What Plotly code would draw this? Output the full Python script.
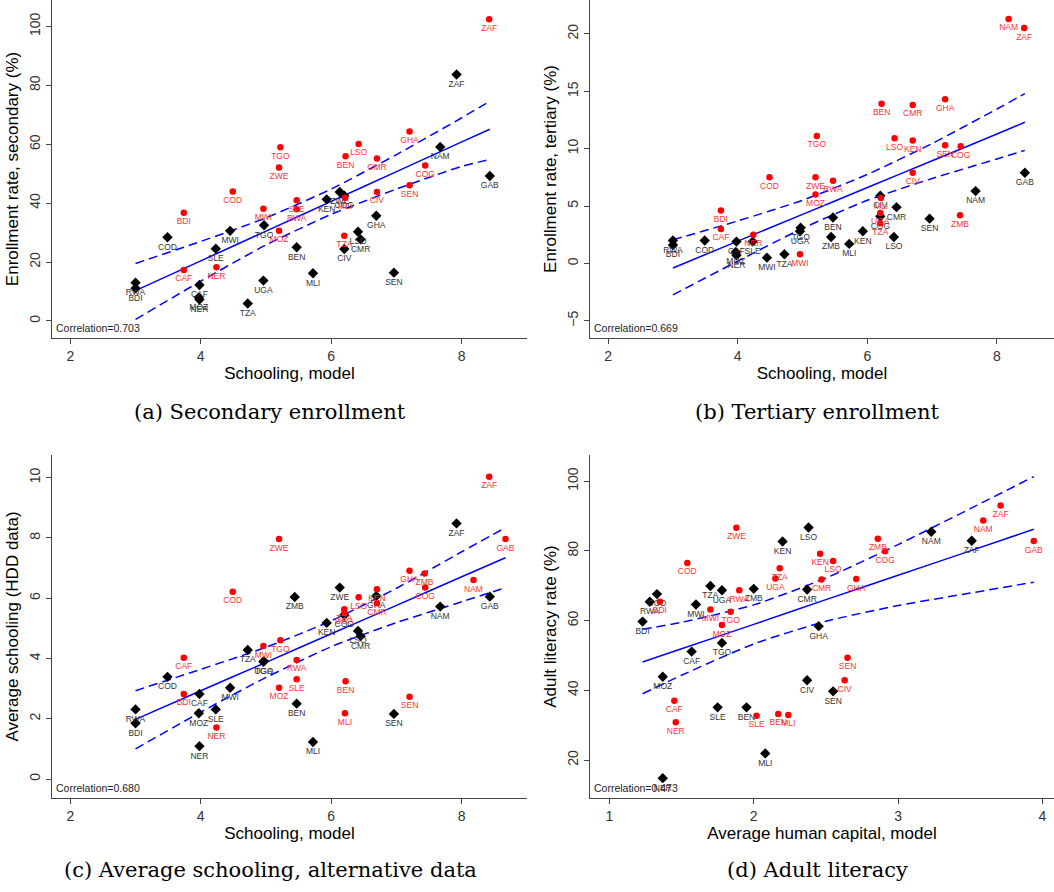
import plotly.graph_objects as go

W, H = 1054, 892

# ---- Panels (a)-(c): countries with model schooling (two samples) ----
BLACK_CODES = ["RWA", "BDI", "COD", "CAF", "MOZ", "NER", "SLE", "MWI", "TZA", "UGA", "TGO", "ZMB", "BEN",
               "MLI", "KEN", "ZWE", "COG", "CIV", "LSO", "CMR", "GHA", "SEN", "NAM", "ZAF", "GAB"]
BLACK_SCHOOL = [3.00, 3.00, 3.49, 3.98, 3.97, 3.98, 4.23, 4.45, 4.72, 4.96, 4.97, 5.44, 5.47,
                5.72, 5.93, 6.13, 6.20, 6.20, 6.41, 6.45, 6.69, 6.96, 7.67, 7.92, 8.43]
sec_black = [13.0, 11.1, 28.4, 12.2, 8.0, 7.3, 24.5, 30.6, 5.9, 13.7, 32.5, None, 25.0,
             16.2, 41.3, 43.8, 42.5, 24.4, 30.3, 27.7, 35.7, 16.4, 59.1, 83.7, 49.2]
ter_black = [2.0, 1.6, 2.0, 1.9, 1.0, 0.7, 1.9, 0.5, 0.8, 2.8, 3.1, 2.3, 4.0,
             1.7, 2.8, None, 4.1, 5.9, 2.3, 4.9, None, 3.9, 6.3, None, 7.9]
hdd_black = [2.31, 1.85, 3.39, 2.82, 2.18, 1.09, 2.31, 3.03, 4.28, 3.89, 3.91, 6.04, 2.50,
             1.23, 5.18, 6.35, 5.44, None, 4.91, 4.74, 6.07, 2.16, 5.72, 8.48, 6.05]

RED_CODES = ["CAF", "BDI", "NER", "COD", "MWI", "MOZ", "ZWE", "TGO", "RWA", "SLE", "TZA", "UGA", "MLI",
             "BEN", "LSO", "KEN", "CMR", "CIV", "GHA", "SEN", "COG", "ZMB", "NAM", "ZAF", "GAB"]
RED_SCHOOL = [3.74, 3.74, 4.24, 4.49, 4.96, 5.20, 5.20, 5.22, 5.47, 5.47, 6.20, 6.20, 6.21,
              6.22, 6.42, 6.70, 6.70, 6.70, 7.20, 7.20, 7.44, 7.43, 8.18, 8.42, 8.67]
sec_red = [17.3, 36.7, 18.2, 44.0, 38.1, 30.6, 52.1, 59.0, 37.9, 41.0, 28.9, None, 41.8,
           55.9, 60.1, None, 55.2, 43.8, 64.3, 46.1, 52.8, None, None, 102.5, None]
ter_red = [3.0, 4.6, 2.5, 7.5, 0.8, 6.0, 7.5, 11.1, 7.2, None, 3.5, 4.4, 5.7,
           13.9, 10.9, 10.7, 13.8, 7.9, 14.3, 10.3, 10.2, 4.2, 21.3, 20.5, None]
hdd_red = [4.02, 2.82, 1.71, 6.21, 4.41, 3.03, 7.96, 4.60, 3.95, 3.31, 5.63, 5.52, 2.18,
           3.24, 6.03, 6.30, 5.83, None, 6.91, 2.73, 6.35, 6.82, 6.60, 10.03, 7.96]

# ---- Panel (d): average human capital vs adult literacy ----
lit_black_codes = ["BDI", "RWA", "COD", "MWI", "TZA", "UGA", "ZMB", "KEN", "LSO", "CMR", "CAF",
                   "TGO", "MOZ", "SLE", "BEN", "MLI", "NER", "CIV", "GHA", "SEN", "NAM", "ZAF"]
lit_black_hc = [1.23, 1.28, 1.33, 1.60, 1.70, 1.78, 2.00, 2.20, 2.38, 2.37, 1.57,
                1.78, 1.37, 1.75, 1.95, 2.08, 1.37, 2.37, 2.45, 2.55, 3.23, 3.51]
lit_black = [59.7, 65.4, 67.6, 64.6, 69.9, 68.7, 69.1, 82.7, 86.7, 68.9, 51.1,
             53.6, 43.9, 35.1, 35.1, 21.9, 14.8, 42.9, 58.4, 39.7, 85.5, 82.9]
lit_red_codes = ["BDI", "ZWE", "COD", "RWA", "TZA", "UGA", "MWI", "TGO", "MOZ", "CAF", "NER", "SLE", "BEN",
                 "MLI", "KEN", "LSO", "CMR", "GHA", "ZMB", "COG", "SEN", "CIV", "NAM", "ZAF", "GAB"]
lit_red_hc = [1.35, 1.88, 1.54, 1.90, 2.18, 2.15, 1.70, 1.84, 1.78, 1.45, 1.46, 2.02, 2.17,
              2.24, 2.46, 2.55, 2.47, 2.71, 2.86, 2.91, 2.65, 2.63, 3.59, 3.71, 3.94]
lit_red = [65.4, 86.6, 76.5, 68.7, 75.0, 72.1, 63.2, 62.5, 58.7, 37.0, 30.8, 32.7, 33.2,
           32.9, 79.2, 77.1, 71.8, 71.9, 83.5, 79.9, 49.3, 42.9, 88.7, 93.0, 82.8]

# ---- Fitted lines with 95% bands ----
fit_x_a = [3.0, 4.0, 5.0, 6.0, 7.0, 8.0, 8.43]
fit_a = [10.3, 20.4, 30.5, 40.6, 50.7, 60.8, 65.1]
hi_a = [19.5, 27.0, 35.0, 44.8, 56.5, 69.0, 74.6]
lo_a = [0.5, 13.5, 25.8, 36.2, 44.8, 52.5, 54.8]

fit_x_b = [3.0, 4.0, 5.0, 6.0, 7.0, 8.0, 8.43]
fit_b = [-0.4, 1.94, 4.27, 6.61, 8.94, 11.28, 12.3]
hi_b = [2.05, 3.7, 5.5, 7.75, 10.45, 13.45, 14.8]
lo_b = [-2.75, 0.2, 3.05, 5.5, 7.4, 9.1, 9.85]

fit_x_c = [3.0, 4.0, 5.0, 6.0, 7.0, 8.0, 8.67]
fit_c = [1.98, 2.93, 3.87, 4.82, 5.76, 6.71, 7.34]
hi_c = [2.93, 3.64, 4.37, 5.25, 6.33, 7.54, 8.34]
lo_c = [1.0, 2.22, 3.37, 4.39, 5.19, 5.88, 6.35]

fit_x_d = [1.23, 1.5, 2.0, 2.5, 3.0, 3.5, 3.94]
fit_d = [48.1, 51.9, 58.9, 66.0, 73.0, 80.0, 86.2]
hi_d = [57.5, 59.5, 64.5, 72.2, 81.8, 92.1, 101.3]
lo_d = [39.0, 44.3, 53.3, 59.8, 64.3, 67.9, 71.0]

correlations = ["0.703", "0.669", "0.680", "0.473"]
captions = ["(a) Secondary enrollment", "(b) Tertiary enrollment",
            "(c) Average schooling, alternative data", "(d) Adult literacy"]
x_titles = ["Schooling, model", "Schooling, model", "Schooling, model", "Average human capital, model"]
y_titles = ["Enrollment rate, secondary (%)", "Enrollment rate, tertiary (%)",
            "Average schooling (HDD data)", "Adult literacy rate (%)"]
y_ticks = [[0, 20, 40, 60, 80, 100], [-5, 0, 5, 10, 15, 20], [0, 2, 4, 6, 8, 10], [20, 40, 60, 80, 100]]
x_ticks = [[2, 4, 6, 8], [2, 4, 6, 8], [2, 4, 6, 8], [1, 2, 3, 4]]

# plot-area boxes in pixels (left, right, top, bottom) and axis ranges
boxes = [(52, 527, 0, 338), (590, 1054, 0, 338), (52, 527, 455, 798), (590, 1054, 455, 798)]
x_ranges = [[1.72, 9.0], [1.72, 8.88], [1.72, 9.0], [0.866, 4.08]]
y_ranges = [[-5.8, 109], [-6.5, 22.95], [-0.63, 10.75], [9.1, 107.5]]

BLUE = "#0000ff"
LABEL_BLACK = "#333333"
LABEL_RED = "#ff3333"
SANS = "Liberation Sans, Arial, sans-serif"
SERIF = "DejaVu Serif, Liberation Serif, serif"

fig = go.Figure()


def drop_missing(codes, xs, ys):
    keep = [(c, x, y) for c, x, y in zip(codes, xs, ys) if y is not None]
    return [k[0] for k in keep], [k[1] for k in keep], [k[2] for k in keep]


def add_panel(i, black, red, fit):
    xa = "x" if i == 0 else f"x{i + 1}"
    ya = "y" if i == 0 else f"y{i + 1}"
    fx, fm, fh, fl = fit
    for ys, dash in ((fh, "9px,5px"), (fl, "9px,5px"), (fm, "solid")):
        fig.add_trace(go.Scatter(x=fx, y=ys, mode="lines", xaxis=xa, yaxis=ya,
                                 line=dict(color=BLUE, width=1.5, dash=dash, shape="spline", smoothing=0.6),
                                 hoverinfo="skip", showlegend=False))
    c, x, y = drop_missing(*black)
    fig.add_trace(go.Scatter(x=x, y=y, text=c, mode="markers+text", xaxis=xa, yaxis=ya,
                             marker=dict(symbol="diamond", size=8, color="black"),
                             textposition="bottom center", cliponaxis=False,
                             textfont=dict(family=SANS, size=8.5, color=LABEL_BLACK), showlegend=False))
    c, x, y = drop_missing(*red)
    fig.add_trace(go.Scatter(x=x, y=y, text=c, mode="markers+text", xaxis=xa, yaxis=ya,
                             marker=dict(symbol="circle", size=6.5, color="#ff0000"),
                             textposition="bottom center", cliponaxis=False,
                             textfont=dict(family=SANS, size=8.5, color=LABEL_RED), showlegend=False))


add_panel(0, (BLACK_CODES, BLACK_SCHOOL, sec_black), (RED_CODES, RED_SCHOOL, sec_red),
          (fit_x_a, fit_a, hi_a, lo_a))
add_panel(1, (BLACK_CODES, BLACK_SCHOOL, ter_black), (RED_CODES, RED_SCHOOL, ter_red),
          (fit_x_b, fit_b, hi_b, lo_b))
add_panel(2, (BLACK_CODES, BLACK_SCHOOL, hdd_black), (RED_CODES, RED_SCHOOL, hdd_red),
          (fit_x_c, fit_c, hi_c, lo_c))
add_panel(3, (lit_black_codes, lit_black_hc, lit_black), (lit_red_codes, lit_red_hc, lit_red),
          (fit_x_d, fit_d, hi_d, lo_d))

layout = dict(width=W, height=H, margin=dict(l=0, r=0, t=0, b=0),
              paper_bgcolor="white", plot_bgcolor="white", showlegend=False)
annotations = []
for i in range(4):
    l, r, t, b = boxes[i]
    xk = "xaxis" if i == 0 else f"xaxis{i + 1}"
    yk = "yaxis" if i == 0 else f"yaxis{i + 1}"
    xa = "x" if i == 0 else f"x{i + 1}"
    ya = "y" if i == 0 else f"y{i + 1}"
    axis_common = dict(showline=True, linecolor="#444444", linewidth=1.3, mirror=False,
                       ticks="outside", ticklen=5, tickwidth=1.2, tickcolor="#444444",
                       showgrid=False, zeroline=False,
                       tickfont=dict(family=SANS, size=14, color="#333333"))
    layout[xk] = dict(axis_common, domain=[l / W, r / W], range=x_ranges[i], anchor=ya,
                      tickvals=x_ticks[i],
                      title=dict(text=x_titles[i], font=dict(family=SANS, size=17, color="black"),
                                 standoff=2))
    layout[yk] = dict(axis_common, domain=[1 - b / H, 1 - t / H], range=y_ranges[i], anchor=xa,
                      tickvals=y_ticks[i], tickangle=-90,
                      title=dict(text=y_titles[i], font=dict(family=SANS, size=17, color="black"),
                                 standoff=4))
    annotations.append(dict(text="Correlation=" + correlations[i], xref=f"{xa} domain", yref=f"{ya} domain",
                            x=0.004, y=0.006, xanchor="left", yanchor="bottom", showarrow=False,
                            font=dict(family=SANS, size=10.5, color="#222222")))
    cx = 270 if i % 2 == 0 else 817
    cy = 412 if i < 2 else 870
    annotations.append(dict(text=captions[i], xref="paper", yref="paper", x=cx / W, y=1 - cy / H,
                            xanchor="center", yanchor="middle", showarrow=False,
                            font=dict(family=SERIF, size=21, color="black")))
layout["annotations"] = annotations
fig.update_layout(**layout)

fig.write_html("out.html")
